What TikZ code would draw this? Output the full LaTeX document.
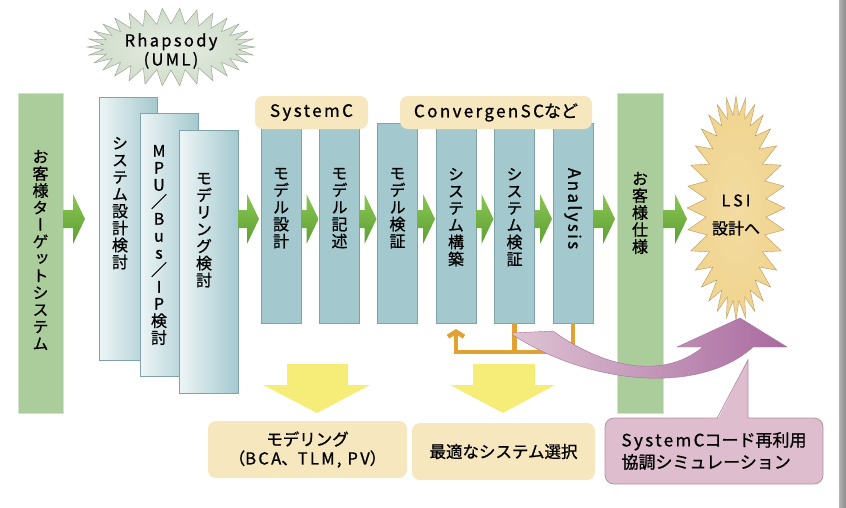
\documentclass[tikz,border=0pt]{standalone}
\usepackage{fontspec}
\setmainfont{Noto Sans CJK JP}[FakeBold=0.9]
% vertical glyph forms (long vowel bar, small kana) for stacked text
\newfontfamily\vjp[RawFeature=+vert, FakeBold=0.9]{Noto Sans CJK JP}
\newcommand\ls[1]{{\addfontfeature{LetterSpace=14}#1}}
\usetikzlibrary{arrows.meta,calc}

\definecolor{cgreen}{HTML}{ABCC9B}
\definecolor{cgreenE}{HTML}{D3E3C9}
\definecolor{tealL}{HTML}{EEF5F6}
\definecolor{tealD}{HTML}{A3C9CF}
\definecolor{tealE}{HTML}{7FA3A8}
\definecolor{tagF}{HTML}{F6E7BF}
\definecolor{arrL}{HTML}{8CC653}
\definecolor{arrD}{HTML}{5B9F33}
\definecolor{yel}{HTML}{F6EC78}
\definecolor{orng}{HTML}{E2A233}
\definecolor{pinkL}{HTML}{DEC3D3}
\definecolor{pinkD}{HTML}{A96A9F}
\definecolor{pinkE}{HTML}{A66E9D}
\definecolor{callF}{HTML}{DDBDCE}
\definecolor{callE}{HTML}{B78FA9}
\definecolor{rhapF}{HTML}{D0DCCB}
\definecolor{rhapI}{HTML}{E6EDE3}
\definecolor{rhapE}{HTML}{8F9E8A}
\definecolor{lsiF}{HTML}{F0D38E}
\definecolor{lsiI}{HTML}{F3DCA2}
\definecolor{lsiE}{HTML}{B8965A}

% green block arrow from the east side of #2 to the west side of #3 (gap #1)
\newcommand\grarrow[3][1pt]{%
  \path[greenarrow] let \p1=(#2.east), \p2=(#3.west) in
    (\x1,-210pt) -- ({\x2-#1-12pt},-210pt) -- ({\x2-#1-12pt},-194pt)
    -- ({\x2-#1},-219pt) -- ({\x2-#1-12pt},-244pt) -- ({\x2-#1-12pt},-228pt)
    -- (\x1,-228pt) -- cycle;}

\begin{document}
\begin{tikzpicture}[x=1pt,y=-1pt,
  every node/.style={inner sep=0pt, outer sep=0pt},
  gbar/.style={fill=cgreen, draw=cgreenE, line width=0.8pt, anchor=north west,
    minimum width=45pt, minimum height=320pt},
  gradbox/.style={left color=tealL, right color=tealD, draw=tealE, line width=0.5pt,
    anchor=north west, minimum width=58pt, minimum height=263pt},
  colbox/.style={fill=tealD, draw=tealE, line width=0.5pt, anchor=north west,
    minimum width=40pt, minimum height=200pt},
  tag/.style={fill=tagF, rounded corners=8pt, minimum height=33pt},
  vtext/.style={font=\vjp\fontsize{16}{17}\selectfont, align=center, anchor=north},
  greenarrow/.style={top color=arrL, bottom color=arrD},
  oline/.style={draw=orng, line width=4.5pt},
  blocktext/.style={font=\fontsize{16.5}{19}\selectfont, align=center}
]
\useasboundingbox (0,0) rectangle (846,507);

% process bars
\node[gbar] (cust) at (18,93) {};
\node[gradbox] (sys) at (99,97) {};
\node[gradbox] (mpu) at (140,113) {};
\node[gradbox, minimum width=59pt] (mod) at (179,130) {};
\node[gbar, minimum width=46pt] (spec) at (617,93) {};

\node[colbox] (md) at (261,123) {};
\node[colbox] (mw) at (319.5,123) {};
\node[colbox] (mv) at (377.5,123) {};
\node[colbox] (sb) at (436,123) {};
\node[colbox] (sv) at (494.5,123) {};
\node[colbox] (an) at (553,123) {};

% tool labels
\node[tag, minimum width=113pt, font=\fontsize{17}{20}\selectfont] (tagsc) at (311.5,112.5) {\ls{SystemC}};
\node[tag, minimum width=192pt, font=\fontsize{17}{20}\selectfont] (tagcv) at (496,112.5) {\ls{ConvergenSC}など};

% vertical captions
\node[vtext] (custT) at (40.5,150) {お\\客\\様\\タ\\ー\\ゲ\\ッ\\ト\\シ\\ス\\テ\\ム};
\node[vtext] (sysT) at (120,137) {シ\\ス\\テ\\ム\\設\\計\\検\\討};
\node[vtext] (mpuT) at (159,145) {M\\P\\U\\／\\B\\u\\s\\／\\I\\P\\検\\討};
\node[vtext] (modT) at (204,173) {モ\\デ\\リ\\ン\\グ\\検\\討};
\node[vtext] (mdT) at ($(md.north)+(0,45)$) {モ\\デ\\ル\\設\\計};
\node[vtext] (mwT) at ($(mw.north)+(0,45)$) {モ\\デ\\ル\\記\\述};
\node[vtext] (mvT) at ($(mv.north)+(0,45)$) {モ\\デ\\ル\\検\\証};
\node[vtext] (sbT) at ($(sb.north)+(0,45)$) {シ\\ス\\テ\\ム\\構\\築};
\node[vtext] (svT) at ($(sv.north)+(0,45)$) {シ\\ス\\テ\\ム\\検\\証};
\node[rotate=-90, anchor=west, font=\fontsize{17}{17}\selectfont] (anT) at ($(an.north)+(0,45)$) {\ls{Analysis}};
\node[vtext] (specT) at (640,172) {お\\客\\様\\仕\\様};

% starbursts
\path[inner color=rhapI, outer color=rhapF, draw=rhapE, line width=0.4pt]
  (171,47) +(0:84 and 39)
  \foreach \i [evaluate=\i as \dd using {mod(\i,2)*16}] in {1,...,59}
    { -- +({\i*(360/60)}:{84-\dd} and {39-\dd}) } -- cycle;
\node[font=\fontsize{16.5}{19}\selectfont, align=center] (rhap) at (171,51) {\ls{Rhapsody}\\\ls{(UML)}};

\path[inner color=lsiI, outer color=lsiF, draw=lsiE, line width=0.4pt]
  (736,208) +(0:49 and 112)
  \foreach \i [evaluate=\i as \dd using {mod(\i,2)*19}] in {1,...,63}
    { -- +({\i*(360/64)}:{49-\dd} and {112-\dd}) } -- cycle;
\node[font=\fontsize{16}{28}\selectfont, align=center] (lsi) at (736,215) {L\kern3pt S\kern3pt I\\設計へ};
\coordinate (lsiW) at (687,219);

% flow arrows
\grarrow[14pt]{cust}{sys}
\grarrow[2pt]{mod}{md}
\grarrow{md}{mw}
\grarrow{mw}{mv}
\grarrow{mv}{sb}
\grarrow{sb}{sv}
\grarrow{sv}{an}
\grarrow[2pt]{an}{spec}
\grarrow[0pt]{spec}{lsiW}

% feedback loop
\draw[oline] (sv.south) -- ++(0,29);
\draw[oline, -{Straight Barb[length=5pt,width=16pt]}, shorten >=6pt]
  (an.south) -- ++(0,29) -| (sb.south);

% results
\fill[yel] (287,364) -- (348,364) -- (348,385) -- (370,385) -- (317,413)
  -- (263,385) -- (287,385) -- cycle;
\fill[yel] (473,364) -- (535,364) -- (535,385) -- (555,385) -- (503,413)
  -- (450,385) -- (473,385) -- cycle;
\node[tag, minimum width=199pt, minimum height=57pt, blocktext] (res1) at (307.5,449.5)
  {モデリング\\（\ls{BCA}、\ls{TLM, PV}）};
\node[tag, minimum width=183pt, minimum height=57pt, blocktext] (res2) at (503.5,451.5)
  {最適なシステム選択};

% reuse arrow
\path[left color=pinkL, right color=pinkD, draw=pinkE, line width=0.4pt]
  (513,333) -- (553,331) .. controls (600,365) and (660,382) .. (703,347)
  -- (677,347) -- (740,318) -- (787,347) -- (753,347)
  .. controls (700,395) and (590,385) .. (513,335) -- cycle;

% callout
\node[fill=callF, draw=callE, line width=0.8pt, rounded corners=9pt,
  minimum width=218pt, minimum height=66pt, align=left,
  font=\fontsize{17}{22}\selectfont] (call) at (714,451)
  {\ls{SystemC}コード再利用\\協調シミュレーション};
\coordinate (callTip) at (748,360);
\fill[callF] (717,421) -- (callTip) -- (748,421) -- cycle;
\draw[callE, line width=0.8pt] (717,418.4) -- (callTip) -- (748,418.4);

% page edge
\fill[left color=black!30, right color=black!45] (839,0) rectangle (846,507);
\end{tikzpicture}
\end{document}
